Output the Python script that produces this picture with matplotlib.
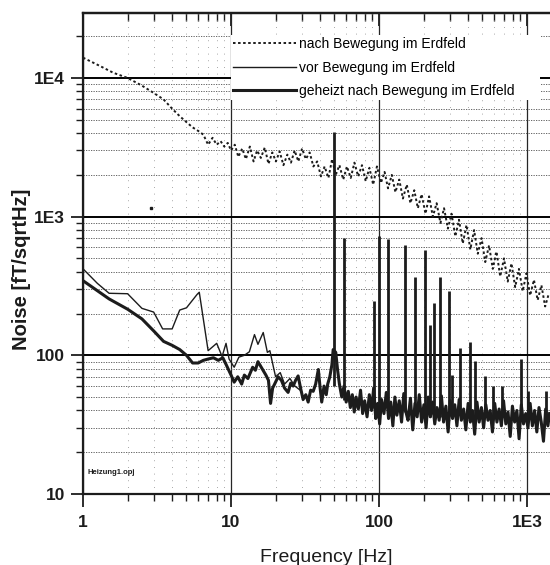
#!/usr/bin/env python3
"""Noise spectrum of the sensor before / after moving it in the earth field (scan re-draw)."""
import matplotlib

matplotlib.use("Agg")
import matplotlib.pyplot as plt
from matplotlib.ticker import FixedLocator, LogLocator, NullFormatter

plt.rcParams["font.family"] = ["Liberation Sans", "DejaVu Sans"]

INK = "#1c1c1c"

# --- values (Hz, fT/sqrtHz) ---
nach_f = [1.0, 1.3, 1.6, 2.0, 2.5, 3.0, 3.5, 4.0, 4.5, 5.0, 5.5, 6.0, 6.5, 7.0, 7.5, 8.0, 8.5, 9.0, 9.5, 10.0,
          10.6, 11.2, 11.9, 12.6, 13.4, 14.2, 15.0, 15.9, 16.9, 17.9, 19.0, 20.1, 21.3, 22.6, 24.0, 25.4, 26.9,
          28.5, 30.2, 32.0, 34.0, 36.0, 38.2, 40.5, 42.9, 45.5, 48.2, 51.0, 54.0, 57.3, 60.7, 64.4, 68.2, 72.3,
          76.7, 81.3, 86.1, 91.3, 96.8, 103, 109, 115, 122, 129, 137, 145, 154, 163, 173, 183, 194, 206, 218,
          231, 245, 260, 275, 292, 309, 328, 347, 368, 390, 414, 439, 465, 493, 522, 554, 587, 622, 659, 699,
          741, 785, 832, 882, 935, 991, 1050, 1114, 1180, 1251, 1326, 1406]
nach_v = [14000, 12200, 10900, 10000, 8800, 7800, 7000, 6000, 5300, 4800, 4400, 4150, 3900, 3300, 3700, 3300,
          3500, 3200, 3400, 3000,
          3300, 2700, 3100, 2600, 3200, 2500, 3000, 2650, 3150, 2400, 2900, 2500, 2950, 2350, 2800, 2450, 3000,
          2500, 3100, 2600, 2900, 2300, 2500, 1950, 2300, 1900, 2600, 2000, 2350, 1850, 2300, 1900, 2450, 1950,
          2350, 1800, 2250, 1700, 2300, 1750, 2100, 1600, 2000, 1500, 1850, 1350, 1700, 1250, 1550, 1150, 1450,
          1050, 1400, 1000, 1250, 900, 1150, 820, 1050, 720, 950, 640, 870, 580, 800, 540, 700, 470, 620, 420,
          560, 370, 500, 340, 460, 310, 420, 290, 390, 270, 350, 250, 320, 225, 280]
nach_stray_f = [2.9]
nach_stray_v = [1150]

vor_f = [1.0, 1.25, 1.5, 2.0, 2.5, 3.0, 3.45, 4.0, 4.5, 5.0, 5.9, 6.1, 7.0, 7.5, 8.0, 8.7, 9.25, 9.7, 10.5,
         11.3, 12.3, 13.3, 14.4, 15.2, 16.5, 17.6, 18.3, 19.3, 20.0, 21.5, 23.0, 25.0, 27.0, 30.0]
vor_v = [420, 330, 280, 278, 218, 205, 155, 155, 212, 220, 275, 285, 108, 115, 122, 98, 122, 94, 82,
         97, 100, 106, 141, 120, 146, 105, 108, 83, 70, 75, 62, 68, 60, 55]

geheizt_f = [1.0, 1.5, 2.0, 2.5, 3.0, 3.5, 4.0, 4.5, 5.0, 5.5, 6.0, 6.5, 7.0, 7.6, 8.2, 8.8, 9.3, 10.0, 10.5,
             11.1, 11.8, 12.3, 13.0, 14.0, 14.6, 15.2, 15.8, 16.5, 17.2, 17.9, 18.5, 19.1, 19.7, 20.8, 21.9,
             23.0, 24.3, 25.3, 26.3, 27.3, 28.4, 29.5, 30.7, 32.0, 33.2, 34.5, 35.9, 37.3, 38.9, 40.0, 41.0,
             42.5, 44.0,
             45, 46.5, 48, 49, 51, 52.5, 54, 56, 58, 60, 62, 64, 66, 68, 70, 72.5, 75, 77.5, 80, 83, 86, 89,
             92, 95, 98, 101, 104, 108, 112, 116, 120, 124, 128, 132, 137, 142, 147, 152, 157, 163, 169, 175,
             181, 187, 194, 201, 208, 215, 222, 230, 238, 246, 255, 264, 273, 283, 293, 303, 314, 325, 336,
             348, 360, 373, 386, 400, 414, 428, 443, 459, 475, 492, 509, 527, 545, 564, 584, 605, 626, 648,
             671, 694, 719, 744, 770, 797, 825, 854, 884, 915, 947, 980, 1015, 1050, 1087, 1125, 1165, 1205,
             1248, 1292, 1337, 1384, 1420]
geheizt_v = [345, 255, 215, 183, 150, 126, 118, 110, 100, 88, 88, 92, 94, 96, 92, 96, 85, 72, 64,
             70, 62, 72, 68, 82, 78, 90, 84, 78, 72, 66, 45, 58, 62, 70, 66,
             58, 54, 63, 60, 66, 71, 58, 48, 52, 46, 56, 55, 62, 79, 58, 46,
             60, 52,
             62, 70, 85, 110, 105, 78, 62, 50, 60, 46, 55, 42, 52, 39, 50, 41, 56, 38, 47, 36, 52, 40,
             58, 35, 45, 32, 48, 38, 54, 35, 46, 31, 50, 37, 47, 33, 53, 39, 34, 49, 29, 45,
             36, 52, 33, 44, 30, 50, 36, 46, 32, 42, 34, 51, 33, 43, 28, 47, 35, 44, 31,
             48, 34, 41, 29, 45, 33, 40, 27, 46, 33, 42, 30, 44, 34, 40, 28, 45, 33, 41,
             31, 47, 32, 39, 26, 43, 33, 40, 25, 44, 32, 38, 30, 45, 31, 40, 28, 42,
             33, 24, 41, 31, 38]

# mains harmonics / interference lines: frequency, top, foot
spike_f = [50, 58, 92, 100, 115, 150, 175, 205, 222, 236, 257, 296, 313, 355, 409, 444, 523, 590, 680,
           905, 1020, 1340]
spike_top = [4050, 700, 245, 720, 690, 620, 370, 570, 165, 240, 370, 290, 72, 112, 125, 91, 71, 60, 60,
             94, 55, 55]
spike_foot = [60, 48, 42, 45, 40, 39, 41, 38, 36, 38, 36, 40, 37, 38, 36, 36, 37, 35, 36, 36, 34, 34]

x_ticks = [1, 10, 100, 1000]
x_labels = ["1", "10", "100", "1E3"]
y_ticks = [10, 100, 1000, 10000]
y_labels = ["10", "100", "1E3", "1E4"]

legend_labels = ["nach Bewegung im Erdfeld", "vor Bewegung im Erdfeld", "geheizt nach Bewegung im Erdfeld"]


def main() -> None:
    fig = plt.figure(figsize=(5.5, 5.65), dpi=100)
    ax = fig.add_axes([0.151, 0.1257, 0.849, 0.8513])
    ax.set_xscale("log")
    ax.set_yscale("log")
    ax.set_xlim(1, 1430)
    ax.set_ylim(10, 29400)

    # grid: heavy solid decades on y, thin on x, dotted minors
    ax.set_axisbelow(True)
    ax.yaxis.grid(True, which="major", color="black", lw=1.4)
    ax.xaxis.grid(True, which="major", color="0.15", lw=0.9)
    ax.yaxis.grid(True, which="minor", color="0.3", lw=0.6, ls=(0, (1.5, 1.5)))
    ax.xaxis.grid(True, which="minor", color="0.55", lw=0.6, ls=(0, (1, 7)))

    (h_nach,) = ax.plot(nach_f, nach_v, color=INK, lw=1.4, ls=(0, (1.3, 1.3)), zorder=2)
    ax.plot(nach_stray_f, nach_stray_v, ls="none", marker="s", ms=1.8, color=INK, zorder=2)
    (h_vor,) = ax.plot(vor_f, vor_v, color=INK, lw=1.0, zorder=3)
    (h_geh,) = ax.plot(geheizt_f, geheizt_v, color=INK, lw=2.2, zorder=4)
    ax.vlines(spike_f, spike_foot, spike_top, color=INK, lw=2.0, zorder=4)

    for side in ("left", "bottom", "top"):
        ax.spines[side].set_linewidth(1.6)
        ax.spines[side].set_color(INK)
    ax.spines["right"].set_visible(False)

    ax.xaxis.set_major_locator(FixedLocator(x_ticks))
    ax.set_xticklabels(x_labels)
    ax.xaxis.set_minor_locator(LogLocator(base=10, subs=range(2, 10), numticks=20))
    ax.xaxis.set_minor_formatter(NullFormatter())
    ax.yaxis.set_major_locator(FixedLocator(y_ticks))
    ax.set_yticklabels(y_labels)
    ax.yaxis.set_minor_locator(LogLocator(base=10, subs=range(2, 10), numticks=20))
    ax.yaxis.set_minor_formatter(NullFormatter())

    ax.tick_params(axis="both", which="major", direction="out", length=9, width=1.3, color=INK,
                   labelsize=12.5, labelcolor=INK, pad=4)
    ax.tick_params(axis="both", which="minor", direction="out", length=5, width=1.0, color=INK)
    ax.tick_params(axis="x", which="major", pad=6)
    for lab in ax.get_xticklabels() + ax.get_yticklabels():
        lab.set_fontweight("bold")

    top = ax.secondary_xaxis("top")
    top.xaxis.set_major_locator(FixedLocator(x_ticks))
    top.xaxis.set_minor_locator(LogLocator(base=10, subs=range(2, 10), numticks=20))
    top.xaxis.set_major_formatter(NullFormatter())
    top.xaxis.set_minor_formatter(NullFormatter())
    top.tick_params(which="major", direction="in", length=9, width=1.3, color=INK)
    top.tick_params(which="minor", direction="in", length=6, width=1.0, color=INK)
    top.spines["top"].set_linewidth(1.6)

    # legend sits on a white patch that hides the grid behind it
    leg = ax.legend([h_nach, h_vor, h_geh], legend_labels, loc="upper left",
                    bbox_to_anchor=(0.317, 0.80, 0.662, 0.154), mode="expand", borderaxespad=0,
                    fontsize=10, handlelength=4.5, handletextpad=0.25, labelspacing=0.68,
                    borderpad=0.15, frameon=True, fancybox=False, framealpha=1)
    leg.get_frame().set_facecolor("white")
    leg.get_frame().set_edgecolor("none")
    leg.set_zorder(6)

    fig.text(0.04, 1 - 269 / 565, "Noise [fT/sqrtHz]", rotation=90, fontsize=14.5, fontweight="bold",
             ha="center", va="center", color=INK)
    fig.text(326 / 550, 1 - 557 / 565, "Frequency [Hz]", fontsize=14, ha="center", va="center", color=INK)
    fig.text(88 / 550, 1 - 472 / 565, "Heizung1.opj", fontsize=5.5, fontweight="bold", ha="left",
             va="center", color=INK)

    fig.savefig("out.png", dpi=100, facecolor="white")
    plt.close(fig)


if __name__ == "__main__":
    main()
